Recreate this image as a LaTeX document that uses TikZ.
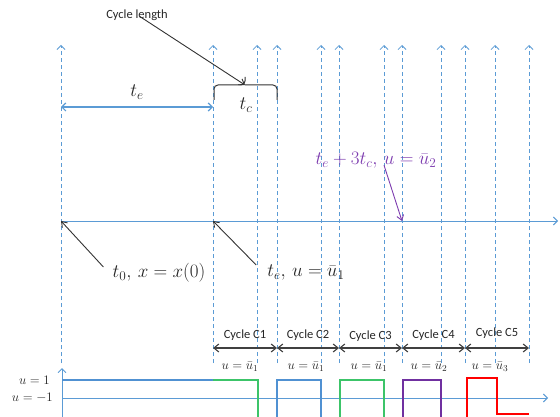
\RequirePackage{fix-cm}
\documentclass[tikz,border=0pt]{standalone}
\usepackage{amsmath}
\usepackage{fontspec}
\setsansfont{Carlito}
\usepackage{tikz}
\usetikzlibrary{arrows.meta,positioning,calc}
\definecolor{dashblue}{RGB}{91,155,213}
\definecolor{sigblue}{RGB}{80,145,210}
\definecolor{siggreen}{RGB}{60,196,105}
\definecolor{sigpurple}{RGB}{112,48,160}
\definecolor{sigred}{RGB}{255,0,0}
\definecolor{txtpurple}{RGB}{125,60,175}

\begin{document}
\begin{tikzpicture}[x=1pt, y=-1pt,
  every node/.style={text=black!85, inner sep=1pt},
  big/.style={font=\fontsize{19}{22}\selectfont},
  small/.style={font=\fontsize{13}{15}\selectfont},
  sflbl/.style={font=\sffamily\fontsize{12.5}{14}\selectfont},
  vline/.style={draw=dashblue, line width=0.8pt, dash pattern=on 4pt off 3pt,
                -{Straight Barb[length=4pt,width=8pt]}},
  ax/.style={draw=dashblue, line width=0.9pt, -{Straight Barb[length=4pt,width=8pt]}},
  dbl/.style={draw=dashblue, line width=1.2pt,
              {Straight Barb[length=4pt,width=8pt]}-{Straight Barb[length=4pt,width=8pt]}},
  ar/.style={draw=black!80, line width=0.9pt, -{Straight Barb[length=5pt,width=7pt]}},
  cyc/.style={draw=black!75, line width=1.1pt,
              {Straight Barb[length=5pt,width=8pt]}-{Straight Barb[length=5pt,width=8pt]}},
  brc/.style={draw=black!80, line width=1pt, rounded corners=4pt},
  sig/.style={line width=1.8pt}]
  \useasboundingbox (0,0) rectangle (560,417);

  \foreach \x [count=\i] in {61,213,257,277,321,339,384,402,441,465,495,529} {
    \coordinate (vb\i) at (\x,363);
    \coordinate (vt\i) at (\x,45);
    \draw[vline] (vb\i) -- (vt\i);
  }

  \coordinate (tl0) at (61,221);
  \coordinate (tle) at (213,221);
  \coordinate (tl3) at (402,221);
  \coordinate (tlend) at (558,221);
  \draw[ax] (tl0) -- (tlend);

  \coordinate (tea) at (61,107);
  \coordinate (teb) at (213,107);
  \draw[dbl] (tea) -- (teb);
  \node[big] (telbl) at (137,92) {$t_e$};

  \coordinate (brl) at (214,100);
  \coordinate (brm) at (245,85);
  \coordinate (brtip) at (245,77);
  \coordinate (brr) at (277,100);
  \draw[brc] (brl) -- (214,85) -- (brm) -- (brtip);
  \draw[brc] (brm) -- (277,85) -- (brr);
  \node[big] (tclbl) at (246,105) {$t_c$};

  \node[sflbl] (cyclen) at (137,15) {Cycle length};
  \draw[ar] ([xshift=3pt,yshift=5pt]cyclen.south) -- ([yshift=-8pt]brtip);

  \node[big, text=txtpurple] (te3lbl) at (376,160) {$t_e+3t_c,\, u=\bar{u}_2$};
  \draw[ar, draw=txtpurple] ([xshift=8pt,yshift=4pt]te3lbl.south) -- (tl3);

  \node[big] (t0lbl) at (159,273) {$t_0,\, x=x(0)$};
  \draw[ar] ([xshift=-8pt,yshift=6pt]t0lbl.west) -- (tl0);
  \node[big] (telbl2) at (306,273) {$t_e,\, u=\bar{u}_1$};
  \draw[ar] ([xshift=-10pt,yshift=8pt]telbl2.west) -- (tle);

  \foreach \a/\b/\n/\ux/\k/\cy in {213/277/1/240/1/335, 277/339/2/306/1/335,
      339/402/3/369/1/336, 402/465/4/429/2/335, 465/529/5/490/3/333} {
    \coordinate (ca\n) at (\a,348);
    \coordinate (cb\n) at (\b,348);
    \draw[cyc] (ca\n) -- (cb\n);
    \node[sflbl] (cyc\n) at ({(\a+\b)/2},\cy) {Cycle C\n};
    \node[small] (ulbl\n) at (\ux,367) {$u=\bar{u}_\k$};
  }

  \coordinate (ub) at (62,417);
  \coordinate (ut) at (62,368);
  \draw[ax] (ub) -- (ut);
  \coordinate (ha) at (62,398);
  \coordinate (hb) at (548,398);
  \draw[ax] (ha) -- (hb);
  \node[small, anchor=east] (uone) at (51,380) {$u=1$};
  \node[small, anchor=east] (umone) at (54,398) {$u=-1$};

  \draw[sig, sigblue] (62,380) -- (213,380);
  \draw[sig, siggreen] (213,380) -- (258,380) -- (258,417);
  \draw[sig, sigblue] (277,417) -- (277,380) -- (321,380) -- (321,417);
  \draw[sig, siggreen] (340,417) -- (340,380) -- (384,380) -- (384,417);
  \draw[sig, sigpurple] (403,417) -- (403,380) -- (441,380) -- (441,417);
  \draw[sig, sigred] (467,417) -- (467,378) -- (497,378) -- (497,414) -- (529,414);
\end{tikzpicture}
\end{document}
